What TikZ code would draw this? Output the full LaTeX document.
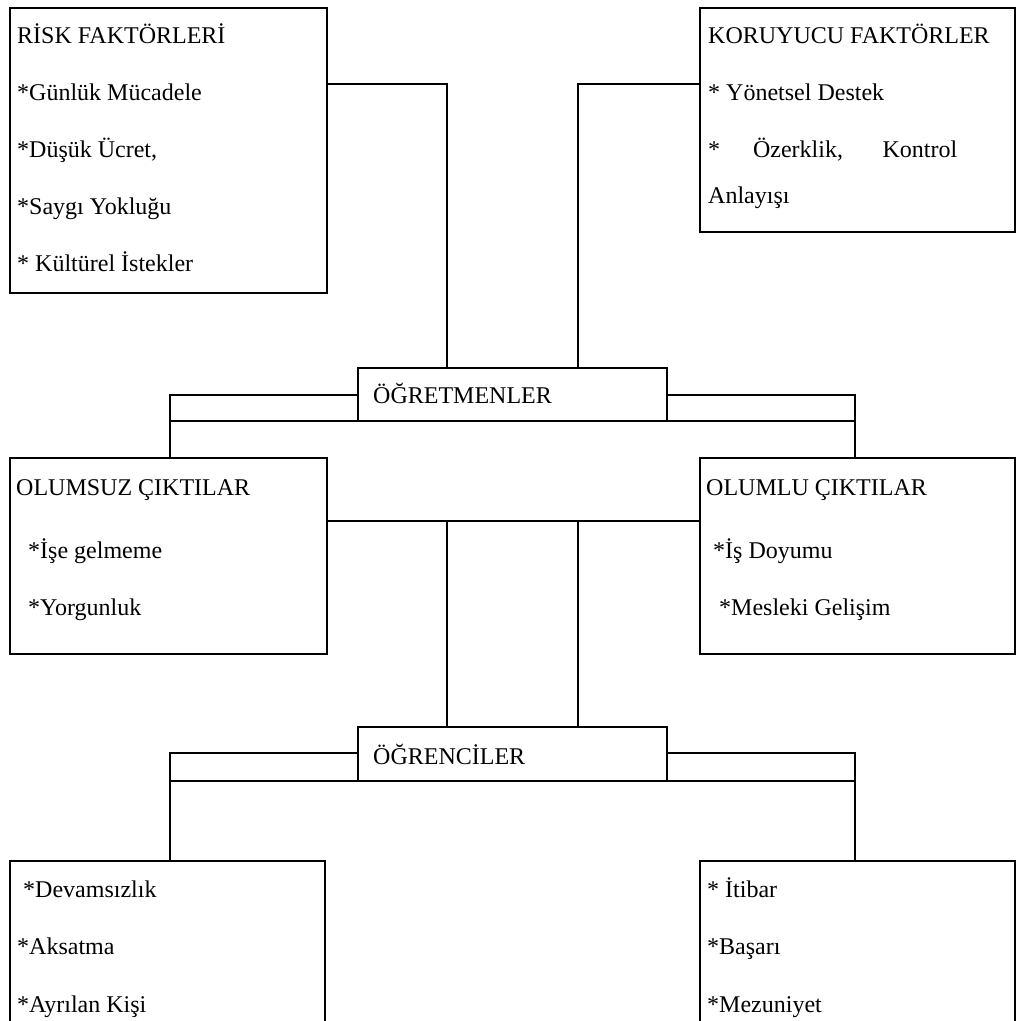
\documentclass[tikz,border=0pt]{standalone}
\usepackage{fontspec}
\setmainfont{Liberation Serif}
\begin{document}
\begin{tikzpicture}[x=1pt,y=-1pt,
  box/.style={draw, line width=1.5pt, rectangle, anchor=north west, inner sep=0pt, outer sep=0pt},
  txt/.style={anchor=base west, inner sep=0pt, font=\fontsize{24}{28}\selectfont},
  wire/.style={line width=1.5pt}]
\useasboundingbox (0,0) rectangle (1020,1021);
\clip (0,0) rectangle (1020,1021);
\fill[white] (0,0) rectangle (1020,1021);

% boxes
\node[box, minimum width=317pt, minimum height=285pt] (risk) at (10,8) {};
\node[box, minimum width=315pt, minimum height=224pt] (koru) at (700,8) {};
\node[box, minimum width=309pt, minimum height=53pt] (ogret) at (358,368) {};
\node[box, minimum width=317pt, minimum height=196pt] (olumsuz) at (10,458) {};
\node[box, minimum width=315pt, minimum height=196pt] (olumlu) at (700,458) {};
\node[box, minimum width=309pt, minimum height=54pt] (ogrenci) at (358,727) {};
\node[box, minimum width=315pt, minimum height=200pt] (devam) at (10,861) {};
\node[box, minimum width=315pt, minimum height=200pt] (itibar) at (700,861) {};

% junction points
\coordinate (rk) at (447,84);
\coordinate (kr) at (578,84);
\coordinate (tl) at (170,395);
\coordinate (tr) at (855,395);
\coordinate (mid) at (0,521);
\coordinate (bl) at (170,753);
\coordinate (br) at (855,753);

% connectors
\draw[wire] (risk.east |- rk) -| (ogret.north -| rk);
\draw[wire] (koru.west |- kr) -| (ogret.north -| kr);
\draw[wire] (ogret.west |- tl) -| (olumsuz.north -| tl);
\draw[wire] (ogret.east |- tr) -| (olumlu.north -| tr);
\draw[wire] (tl |- ogret.south) -- (tr |- ogret.south);
\draw[wire] (olumsuz.east |- mid) -- (olumlu.west |- mid);
\draw[wire] (rk |- mid) -- (rk |- ogrenci.north);
\draw[wire] (kr |- mid) -- (kr |- ogrenci.north);
\draw[wire] (ogrenci.west |- bl) -| (devam.north -| bl);
\draw[wire] (ogrenci.east |- br) -| (itibar.north -| br);
\draw[wire] (bl |- ogrenci.south) -- (br |- ogrenci.south);

% risk factors
\node[txt] (r0) at (17,43) {RİSK FAKTÖRLERİ};
\node[txt] (r1) at (17,100) {*Günlük Mücadele};
\node[txt] (r2) at (17,157) {*Düşük Ücret,};
\node[txt] (r3) at (17,214) {*Saygı Yokluğu};
\node[txt] (r4) at (17,271) {* Kültürel İstekler};

% protective factors
\node[txt] (k0) at (708,43) {KORUYUCU FAKTÖRLER};
\node[txt] (k1) at (708,100) {* Yönetsel Destek};
\node[txt] (k2) at (708,157) {\makebox[249pt][s]{* Özerklik, Kontrol}};
\node[txt] (k3) at (708,203) {Anlayışı};

% teachers / students
\node[txt] (t0) at (373,403) {ÖĞRETMENLER};
\node[txt] (s0) at (373,764) {ÖĞRENCİLER};

% negative outcomes
\node[txt] (n0) at (16,495) {OLUMSUZ ÇIKTILAR};
\node[txt] (n1) at (28,558) {*İşe gelmeme};
\node[txt] (n2) at (28,615) {*Yorgunluk};

% positive outcomes
\node[txt] (p0) at (706,495) {OLUMLU ÇIKTILAR};
\node[txt] (p1) at (713,558) {*İş Doyumu};
\node[txt] (p2) at (719,615) {*Mesleki Gelişim};

% student outcomes
\node[txt] (d1) at (23,897) {*Devamsızlık};
\node[txt] (d2) at (17,954) {*Aksatma};
\node[txt] (d3) at (17,1012) {*Ayrılan Kişi};
\node[txt] (i1) at (707,897) {* İtibar};
\node[txt] (i2) at (707,954) {*Başarı};
\node[txt] (i3) at (707,1012) {*Mezuniyet};
\end{tikzpicture}
\end{document}
